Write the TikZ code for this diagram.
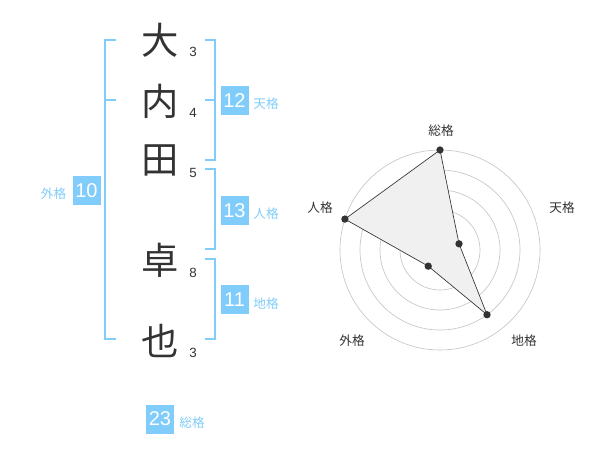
\documentclass[tikz,border=0pt]{standalone}
\usepackage{fontspec}
\setmainfont{Liberation Sans}
\newfontfamily\jp{Noto Sans CJK JP}
\definecolor{kakublue}{RGB}{128,204,250}
\definecolor{inkgray}{RGB}{51,51,51}
\tikzset{
  kanji/.style={text=inkgray, font=\jp\fontsize{28}{28}\selectfont, inner sep=0pt},
  strokes/.style={text=inkgray, font=\fontsize{10}{10}\selectfont, inner sep=0pt},
  kakubox/.style={fill=kakublue, text=white, minimum width=21pt, minimum height=21.75pt, inner sep=0pt, font=\fontsize{15}{15}\selectfont},
  kakuname/.style={text=kakublue, font=\jp\fontsize{9.5}{9.5}\selectfont, inner sep=0pt},
  bracket/.style={draw=kakublue, line width=1.5pt},
  ring/.style={draw=black!22, line width=0.5pt},
  axisname/.style={text=inkgray, font=\jp\fontsize{9.5}{9.5}\selectfont, inner sep=0pt},
  dot/.style={circle, fill=inkgray, inner sep=0pt, minimum size=5.5pt}
}
\begin{document}
\begin{tikzpicture}[x=0.75pt,y=-0.75pt]
        \useasboundingbox (0,0) rectangle (600,470);

        % the name, one character per row, with its stroke count
        \node[kanji] (k1) at (160,40) {大};
        \node[kanji] (k2) at (160,101) {内};
        \node[kanji] (k3) at (160,160) {田};
        \node[kanji] (k4) at (160,260) {卓};
        \node[kanji] (k5) at (160,341) {也};
        \node[strokes] (s1) at (193,52) {3};
        \node[strokes] (s2) at (193,113) {4};
        \node[strokes] (s3) at (193,173) {5};
        \node[strokes] (s4) at (193,273) {8};
        \node[strokes] (s5) at (193,353) {3};

        % brackets
        \draw[bracket] (116,40) -- (105,40) -- (105,339.5) -- (116,339.5);
        \draw[bracket] (105,100) -- (116,100);
        \draw[bracket] (205,40) -- (214.5,40) -- (214.5,160) -- (205,160);
        \draw[bracket] (205,100) -- (214.5,100);
        \draw[bracket] (205,169.5) -- (214.5,169.5) -- (214.5,249.5) -- (205,249.5);
        \draw[bracket] (205,259.5) -- (214.5,259.5) -- (214.5,339.5) -- (205,339.5);

        % the five sums
        \node[kakubox] (gai) at (86.5,190.5) {10};
        \node[kakuname] (gaiN) at (53.5,194) {外格};
        \node[kakubox] (ten) at (234.5,100.5) {12};
        \node[kakuname] (tenN) at (266,104) {天格};
        \node[kakubox] (jin) at (234.5,210.5) {13};
        \node[kakuname] (jinN) at (266,214) {人格};
        \node[kakubox] (chi) at (234.5,300) {11};
        \node[kakuname] (chiN) at (266,304) {地格};
        \node[kakubox] (sou) at (160,419) {23};
        \node[kakuname] (souN) at (192,423) {総格};

        % radar chart
        \coordinate (C) at (440,250);
        \foreach \r in {15,30,45,60,75}
            \draw[ring] (C) circle[radius=\r pt];
        \fill[black!22] (C) circle[radius=2.6pt];

        \coordinate (pSou) at ([shift={(-90:100)}]C);
        \coordinate (pTen) at ([shift={(-18:20)}]C);
        \coordinate (pChi) at ([shift={(54:80)}]C);
        \coordinate (pGai) at ([shift={(126:20)}]C);
        \coordinate (pJin) at ([shift={(198:100)}]C);
        \draw[inkgray, line width=0.5pt, fill=black!6] (pSou) -- (pTen) -- (pChi) -- (pGai) -- (pJin) -- cycle;
        \foreach \p in {pSou,pTen,pChi,pGai,pJin}
            \node[dot] at (\p) {};

        \node[axisname] (aSou) at (441,131) {総格};
        \node[axisname] (aTen) at (562,208) {天格};
        \node[axisname] (aChi) at (524,341) {地格};
        \node[axisname] (aGai) at (352,341) {外格};
        \node[axisname] (aJin) at (320,208) {人格};

    \end{tikzpicture}
\end{document}
